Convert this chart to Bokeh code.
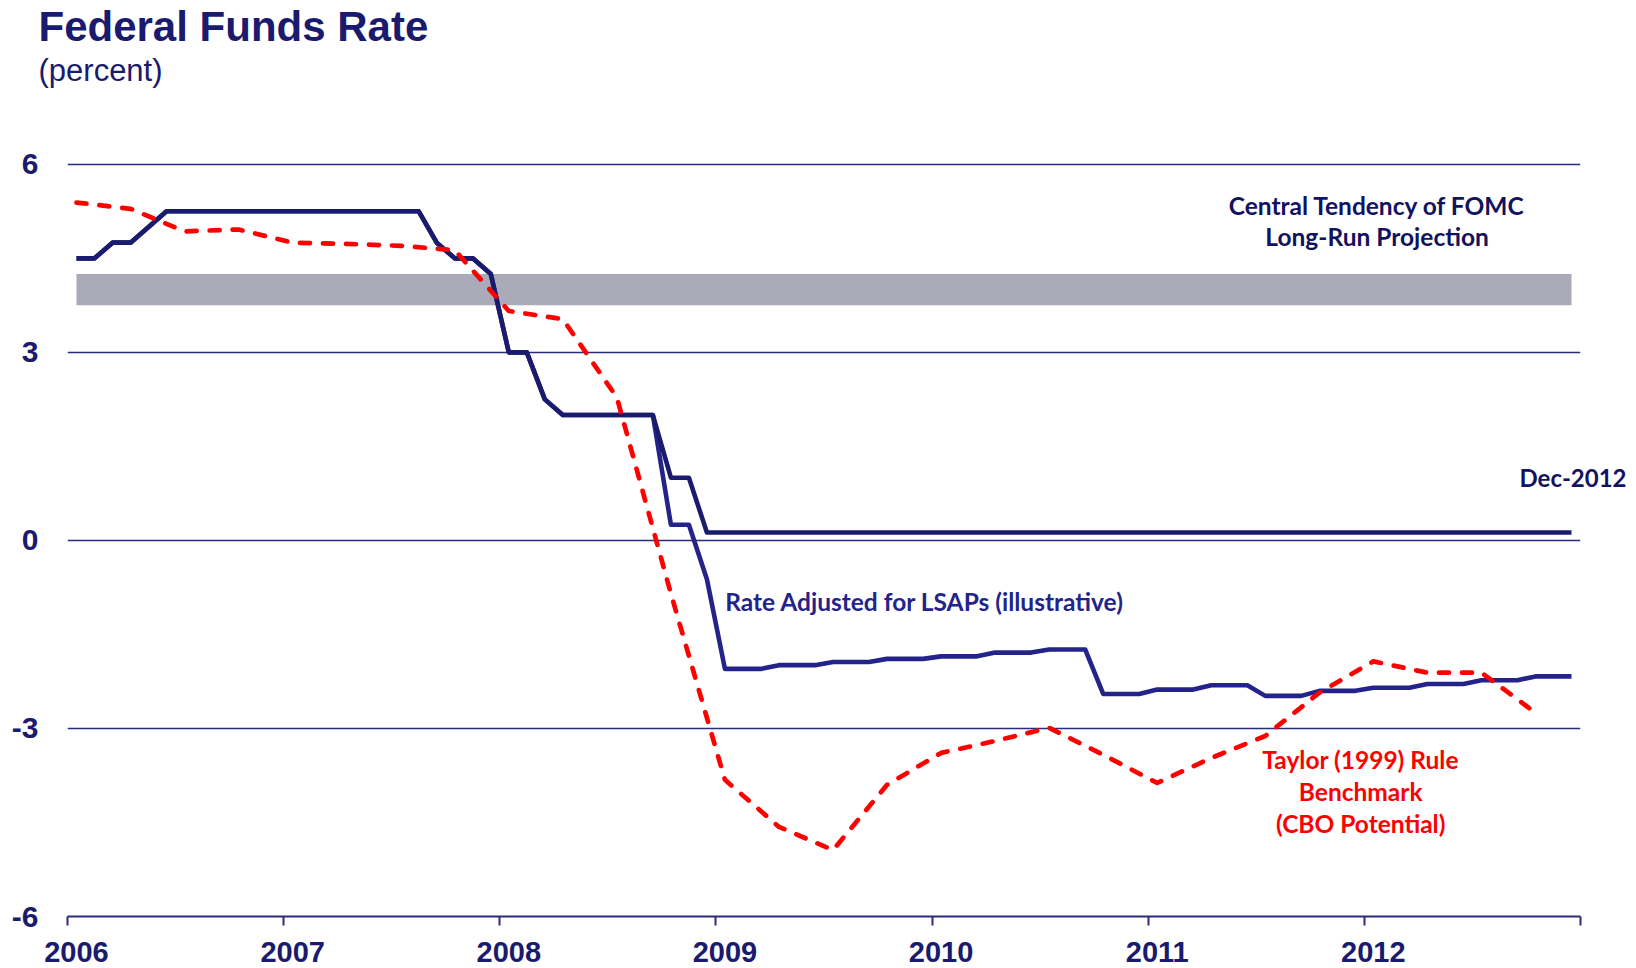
from bokeh.plotting import figure
from bokeh.models import (Range1d, FixedTicker, Label, ColumnDataSource, Title,
                          LinearAxis, CustomJSTickFormatter)
from bokeh.embed import file_html
from bokeh.resources import INLINE

# ---------------- data ----------------
start_year = 2006
year_labels = ["2006", "2007", "2008", "2009", "2010", "2011", "2012"]
axis_years = [2006, 2007, 2008, 2009, 2010, 2011, 2012, 2013]
y_ticks = [-6, -3, 0, 3, 6]
y_tick_labels = ["-6", "-3", "0", "3", "6"]

# Federal funds rate (monthly, Jan 2006 - Dec 2012)
ffr_2006 = [4.5, 4.5, 4.75, 4.75, 5.0, 5.25, 5.25, 5.25, 5.25, 5.25, 5.25, 5.25]
ffr_2007 = [5.25, 5.25, 5.25, 5.25, 5.25, 5.25, 5.25, 5.25, 4.75, 4.5, 4.5, 4.25]
ffr_2008 = [3.0, 3.0, 2.25, 2.0, 2.0, 2.0, 2.0, 2.0, 2.0, 1.0, 1.0, 0.125]
ffr_2009 = [0.125] * 12
ffr_2010 = [0.125] * 12
ffr_2011 = [0.125] * 12
ffr_2012 = [0.125] * 12
ffr = ffr_2006 + ffr_2007 + ffr_2008 + ffr_2009 + ffr_2010 + ffr_2011 + ffr_2012

# Rate adjusted for LSAPs (monthly)
lsap_2006 = [4.5, 4.5, 4.75, 4.75, 5.0, 5.25, 5.25, 5.25, 5.25, 5.25, 5.25, 5.25]
lsap_2007 = [5.25, 5.25, 5.25, 5.25, 5.25, 5.25, 5.25, 5.25, 4.75, 4.5, 4.5, 4.25]
lsap_2008 = [3.0, 3.0, 2.25, 2.0, 2.0, 2.0, 2.0, 2.0, 2.0, 0.25, 0.25, -0.62]
lsap_2009 = [-2.05, -2.05, -2.05, -1.99, -1.99, -1.99, -1.94, -1.94, -1.94, -1.89, -1.89, -1.89]
lsap_2010 = [-1.85, -1.85, -1.85, -1.79, -1.79, -1.79, -1.74, -1.74, -1.74, -2.45, -2.45, -2.45]
lsap_2011 = [-2.38, -2.38, -2.38, -2.31, -2.31, -2.31, -2.48, -2.48, -2.48, -2.40, -2.40, -2.40]
lsap_2012 = [-2.35, -2.35, -2.35, -2.29, -2.29, -2.29, -2.23, -2.23, -2.23, -2.17, -2.17, -2.17]
lsap = lsap_2006 + lsap_2007 + lsap_2008 + lsap_2009 + lsap_2010 + lsap_2011 + lsap_2012

# Taylor (1999) rule benchmark (quarterly, 2006Q1 - 2012Q4)
taylor = [5.39, 5.29, 4.93, 4.96,
          4.75, 4.73, 4.70, 4.63,
          3.66, 3.53, 2.28, -0.85,
          -3.82, -4.57, -4.94, -3.90,
          -3.39, -3.20, -2.99, -3.42,
          -3.87, -3.47, -3.12, -2.43,
          -1.93, -2.11, -2.11, -2.75]

# Central tendency of FOMC long-run projection
band_low = 3.75
band_high = 4.25

# end-of-sample marker text
end_label = "Dec-2012"

# ---------------- positions (month centres) ----------------
month_x = [start_year + i / 12 + 1 / 24 for i in range(len(ffr))]
quarter_x = [start_year + 3 * i / 12 + 1 / 24 for i in range(len(taylor))]

navy = "#1a1a6e"
navy_line = "#1b1b6e"
text_navy = "#12125f"
lsap_col = "#23238a"
grid_col = "#2b2b7d"
red = "#ff0000"
band_col = "#aaaab8"

p = figure(width=1632, height=966, output_backend="svg", toolbar_location=None,
           x_range=Range1d(2006, 2013), y_range=Range1d(-6, 6.3),
           min_border_left=67, min_border_right=52, min_border_top=145, min_border_bottom=50,
           title=None)
p.outline_line_color = None
p.background_fill_color = "white"
p.border_fill_color = "white"

# titles, stacked outward from the frame: spacer, subtitle, title
p.add_layout(Title(text=" ", standoff=53, text_font_size="1px", text_color="white"), "above")
p.add_layout(Title(text="(percent)", align="left", offset=-29, standoff=0,
                   vertical_align="top",
                   text_font="Liberation Sans", text_font_style="normal",
                   text_font_size="31px", text_color=navy), "above")
p.add_layout(Title(text="Federal Funds Rate", align="left", offset=-29, standoff=2,
                   vertical_align="top",
                   text_font="Liberation Sans", text_font_style="bold",
                   text_font_size="42px", text_color=navy), "above")

# grid
p.xgrid.visible = False
p.ygrid.ticker = FixedTicker(ticks=y_ticks)
p.ygrid.grid_line_color = grid_col
p.ygrid.grid_line_width = 1.6

# y axis
p.yaxis.ticker = FixedTicker(ticks=y_ticks)
p.yaxis.major_label_overrides = dict(zip(y_ticks, y_tick_labels))
p.yaxis.axis_line_color = None
p.yaxis.major_tick_line_color = None
p.yaxis.minor_tick_line_color = None
p.yaxis.major_tick_out = 0
p.yaxis.major_tick_in = 0
p.yaxis.major_label_standoff = 29
p.yaxis.major_label_text_font = "Liberation Sans"
p.yaxis.major_label_text_font_style = "bold"
p.yaxis.major_label_text_font_size = "30px"
p.yaxis.major_label_text_color = navy

# x axis: tick marks at year boundaries, labels centred on January
p.xaxis.ticker = FixedTicker(ticks=[y + 1 / 24 for y in axis_years[:-1]], minor_ticks=axis_years)
p.xaxis.formatter = CustomJSTickFormatter(args=dict(labels=year_labels, start=start_year),
                                          code="return labels[Math.floor(tick) - start] || '';")
p.xaxis.axis_line_color = grid_col
p.xaxis.axis_line_width = 2.2
p.xaxis.major_tick_line_color = None
p.xaxis.major_tick_in = 0
p.xaxis.major_tick_out = 0
p.xaxis.minor_tick_line_color = grid_col
p.xaxis.minor_tick_line_width = 2
p.xaxis.minor_tick_in = 0
p.xaxis.minor_tick_out = 9
p.xaxis.major_label_standoff = 16
p.xaxis.major_label_text_font = "Liberation Sans"
p.xaxis.major_label_text_font_style = "bold"
p.xaxis.major_label_text_font_size = "29px"
p.xaxis.major_label_text_color = navy

# right axis carrying the end-of-sample marker
end_axis = LinearAxis(ticker=FixedTicker(ticks=[1.0]),
                      major_label_overrides={1: end_label})
end_axis.axis_line_color = None
end_axis.major_tick_line_color = None
end_axis.minor_tick_line_color = None
end_axis.major_tick_out = 0
end_axis.major_tick_in = 0
end_axis.major_label_standoff = -61
end_axis.major_label_text_font = "Lato"
end_axis.major_label_text_font_style = "bold"
end_axis.major_label_text_font_size = "24px"
end_axis.major_label_text_color = text_navy
p.add_layout(end_axis, "right")

# band
band_src = ColumnDataSource(dict(x=month_x, lo=[band_low] * len(month_x), hi=[band_high] * len(month_x)))
p.varea(x="x", y1="lo", y2="hi", source=band_src, fill_color=band_col)

# lines
p.line(month_x, lsap, line_color=lsap_col, line_width=4.6, line_join="round")
p.line(month_x, ffr, line_color=navy_line, line_width=4.6, line_join="round")
p.line(quarter_x, taylor, line_color=red, line_width=4.7, line_dash="10 13",
       line_cap="round", line_join="round")


def add_text(x, y, text, color, align="left"):
    p.add_layout(Label(x=x, y=y, text=text, text_align=align, text_baseline="alphabetic",
                       text_font="Lato", text_font_style="bold", text_font_size="24.5px",
                       text_color=color))


add_text(2012.059, 5.35, "Central Tendency of FOMC", text_navy, align="center")
add_text(2012.059, 4.85, "Long-Run Projection", text_navy, align="center")
add_text(2009.043, -0.97, "Rate Adjusted for LSAPs (illustrative)", lsap_col)
add_text(2011.983, -3.50, "Taylor (1999) Rule", red, align="center")
add_text(2011.983, -4.005, "Benchmark", red, align="center")
add_text(2011.983, -4.51, "(CBO Potential)", red, align="center")

open("out.html", "w").write(file_html(p, INLINE))
